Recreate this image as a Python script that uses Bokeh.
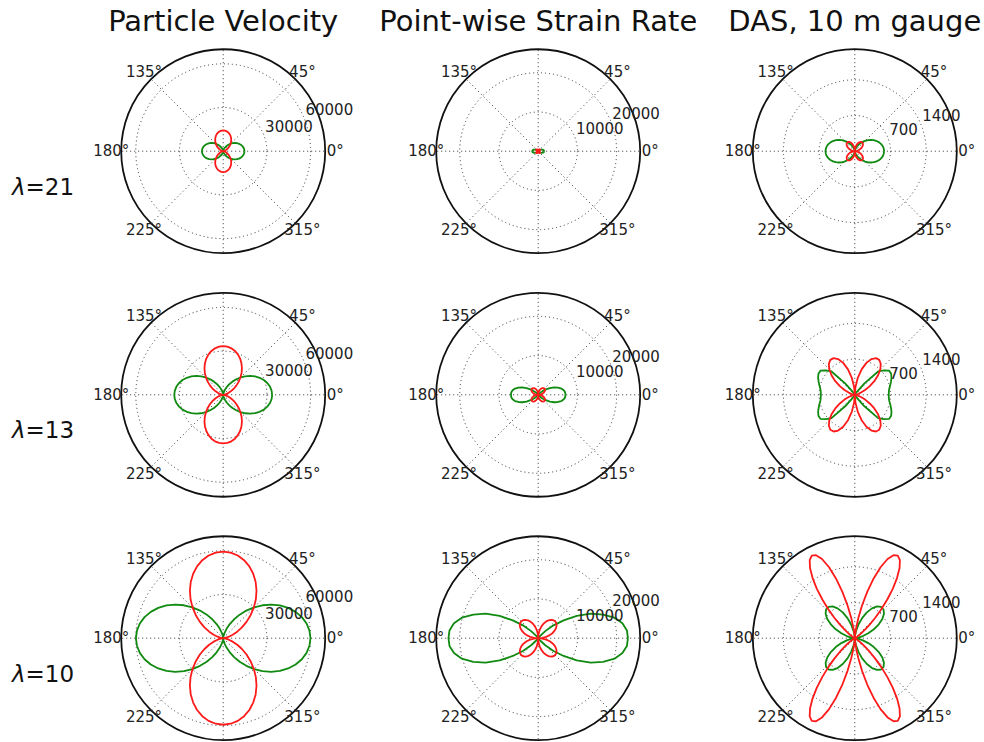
import numpy as np
from bokeh.plotting import figure
from bokeh.layouts import column, row
from bokeh.models import Range1d
from bokeh.core.properties import value
from bokeh.embed import file_html
from bokeh.resources import INLINE

# ---------------- data ----------------
# radius readings on one quadrant (0..90 deg); curves are mirror-symmetric
DEG = [0, 5, 10, 15, 20, 25, 30, 35, 40, 45, 50, 55, 60, 65, 70, 75, 80, 85, 90]
DEG_FINE = [0, 2.5, 5, 7.5, 10, 12.5, 15, 17.5, 20, 22.5, 25, 27.5, 30, 32.5, 35, 37.5,
            40, 42.5, 45, 47.5, 50, 52.5, 55, 57.5, 60, 62.5, 65, 67.5, 70, 72.5, 75,
            77.5, 80, 82.5, 85, 87.5, 90]

col_titles = ["Particle Velocity", "Point-wise Strain Rate", "DAS, 10 m gauge"]
row_lambdas = ["21", "13", "10"]
col_rmax = [70000, 26000, 2000]
col_ticks = [[30000, 60000], [10000, 20000], [700, 1400]]
angle_ticks = [0, 45, 135, 180, 225, 315]
angle_labels = ["0°", "45°", "135°", "180°", "225°", "315°"]

# Particle velocity
pv_green_21 = [14600, 14480, 14160, 13620, 12890, 11990, 10950, 9800, 8570, 7300, 6030, 4800, 3650, 2610, 1710, 980, 440, 120, 0]
pv_red_21 = [0, 110, 430, 960, 1670, 2560, 3580, 4700, 5910, 7150, 8390, 9590, 10730, 11740, 12630, 13340, 13870, 14190, 14300]
pv_green_13 = [33600, 33330, 32590, 31350, 29670, 27590, 25200, 22550, 19720, 16800, 13880, 11050, 8400, 6010, 3930, 2250, 1010, 270, 0]
pv_red_13 = [0, 270, 1000, 2240, 3910, 5980, 8350, 10990, 13790, 16700, 19610, 22410, 25050, 27420, 29490, 31160, 32400, 33130, 33400]
pv_green_10 = [59900, 59420, 58100, 55890, 52890, 49180, 44930, 40190, 35160, 29950, 24740, 19710, 14980, 10720, 7010, 4010, 1800, 480, 0]
pv_red_10 = [0, 480, 1780, 3980, 6950, 10630, 14850, 19540, 24530, 29700, 34870, 39860, 44550, 48770, 52450, 55420, 57620, 58920, 59400]

# Point-wise strain rate
sr_green_21 = [1500, 1490, 1430, 1320, 1150, 970, 740, 520, 330, 170, 50, 0, 0, 0, 0, 0, 0, 0, 0]
sr_red_21 = [0, 110, 220, 320, 410, 490, 550, 600, 630, 640, 630, 600, 550, 490, 410, 320, 220, 110, 0]
sr_green_13 = [6950, 6900, 6630, 6130, 5350, 4500, 3450, 2400, 1550, 780, 230, 0, 0, 0, 0, 0, 0, 0, 0]
sr_red_13 = [0, 390, 770, 1130, 1450, 1720, 1950, 2110, 2220, 2250, 2220, 2110, 1950, 1720, 1450, 1130, 770, 390, 0]
sr_green_10 = [22870, 22700, 21800, 20150, 17600, 14790, 11350, 7900, 5100, 2550, 770, 0, 0, 0, 0, 0, 0, 0, 0]
sr_red_10 = [0, 1060, 2090, 3050, 3920, 4670, 5280, 5730, 6010, 6100, 6010, 5730, 5280, 4670, 3920, 3050, 2090, 1060, 0]

# DAS, 10 m gauge
das_green_21 = [575, 570, 558, 536, 508, 472, 431, 386, 338, 288, 237, 189, 144, 103, 67, 39, 17, 5, 0]
das_red_21 = [0, 17, 43, 74, 106, 138, 167, 191, 210, 221, 225, 221, 208, 187, 159, 125, 86, 44, 0]
das_green_13 = [666, 670, 686, 719, 755, 794, 823, 823, 745, 647, 294, 78, 20, 0, 0, 0, 0, 0, 0]
das_red_13 = [0, 3, 20, 60, 128, 223, 339, 467, 596, 708, 792, 836, 831, 773, 666, 516, 339, 154, 0]
das_green_10 = [0, 18, 73, 164, 281, 412, 543, 659, 747, 796, 801, 760, 676, 559, 420, 277, 146, 47, 0]
das_red_10 = [0, 0, 0, 0, 0, 0, 0, 0, 1, 3, 6, 14, 29, 56, 101, 170, 267, 400, 567, 769,
              990, 1226, 1445, 1634, 1769, 1826, 1797, 1681, 1485, 1229, 941, 656, 400, 203, 73, 12, 0]

green_curves = [[(DEG, pv_green_21), (DEG, sr_green_21), (DEG, das_green_21)],
                [(DEG, pv_green_13), (DEG, sr_green_13), (DEG, das_green_13)],
                [(DEG, pv_green_10), (DEG, sr_green_10), (DEG, das_green_10)]]
red_curves = [[(DEG, pv_red_21), (DEG, sr_red_21), (DEG, das_red_21)],
              [(DEG, pv_red_13), (DEG, sr_red_13), (DEG, das_red_13)],
              [(DEG, pv_red_10), (DEG, sr_red_10), (DEG_FINE, das_red_10)]]

# ---------------- layout ----------------
R_PX = 102.0
COL_W = [380, 316, 288]
COL_CX = [222.7, 157.7, 158.3]
ROW_H = [272, 244, 226]
ROW_CY = [150.7, 122.3, 121.7]

GREEN = "#108a10"
RED = "#ff1a1a"
FONT = value("DejaVu Sans")


def full_curve(deg, r):
    d = np.asarray(deg, dtype=float)
    rr = np.asarray(r, dtype=float)
    th = np.concatenate([d, 180 - d[::-1], 180 + d, 360 - d[::-1]])
    r4 = np.concatenate([rr, rr[::-1], rr, rr[::-1]])
    t = np.radians(th)
    return r4 * np.cos(t), r4 * np.sin(t)


def make_panel(i, j):
    W, H = COL_W[j], ROW_H[i]
    cx, cy = COL_CX[j], ROW_CY[i]
    rmax = col_rmax[j]
    k = R_PX / rmax
    p = figure(width=W, height=H,
               x_range=Range1d(-cx / k, (W - cx) / k),
               y_range=Range1d(-(H - cy) / k, cy / k),
               output_backend="svg", toolbar_location=None, min_border=0)
    p.axis.visible = False
    p.grid.visible = False
    p.outline_line_color = None
    p.background_fill_color = "white"
    p.border_fill_color = "white"

    # dotted rings and spokes
    ticks = col_ticks[j]
    p.circle(x=[0] * len(ticks), y=[0] * len(ticks), radius=ticks, fill_color=None,
             line_color="#333333", line_width=1, line_dash="1 3")
    sp = np.radians(np.arange(0, 360, 45))
    p.segment(x0=np.zeros(8), y0=np.zeros(8), x1=rmax * np.cos(sp), y1=rmax * np.sin(sp),
              line_color="#333333", line_width=1, line_dash="1 3")

    # curves
    gx, gy = full_curve(*green_curves[i][j])
    p.line(gx, gy, line_color=GREEN, line_width=1.8)
    rx, ry = full_curve(*red_curves[i][j])
    p.line(rx, ry, line_color=RED, line_width=1.8)

    # outer circle
    p.circle(x=[0], y=[0], radius=[rmax], fill_color=None, line_color="#111111", line_width=1.8)

    # angle labels
    at = np.radians(angle_ticks)
    rl = 112.0 / k
    p.text(x=rl * np.cos(at), y=rl * np.sin(at), text=angle_labels, text_font=FONT,
           text_font_size="15px", text_color="#222222", text_align="center",
           text_baseline="middle")

    # radial tick labels
    a = np.radians(22.5)
    tk = np.asarray(ticks, dtype=float)
    p.text(x=tk * np.cos(a) + 1.5 / k, y=tk * np.sin(a) + 8.4 / k,
           text=[str(t) for t in ticks], text_font=FONT, text_font_size="15px",
           text_color="#222222", text_align="left", text_baseline="middle")

    if i == 0:
        p.text(x=[0], y=[(cy - 20.5) / k], text=[col_titles[j]], text_font=FONT,
               text_font_size="29px", text_color="#111111", text_align="center",
               text_baseline="middle")
    if j == 0:
        yb = -35.5 / k
        p.text(x=[(11.5 - cx) / k], y=[yb], text=["λ"], text_font=FONT,
               text_font_size="23px", text_font_style="italic", text_color="#111111",
               text_align="left", text_baseline="middle")
        p.text(x=[(25 - cx) / k], y=[yb], text=["=" + row_lambdas[i]], text_font=FONT,
               text_font_size="23px", text_color="#111111", text_align="left",
               text_baseline="middle")
    return p


rows = []
for i in range(3):
    rows.append(row(*[make_panel(i, j) for j in range(3)], spacing=0))
layout = column(*rows, spacing=0)

open("out.html", "w").write(file_html(layout, INLINE))
